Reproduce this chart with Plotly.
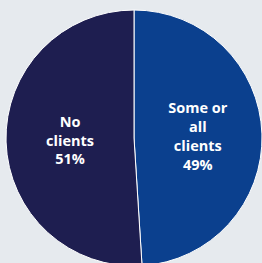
import plotly.graph_objects as go

labels = ["Some or all clients", "No clients"]
display_labels = ["Some or<br>all<br>clients", "No<br>clients"]
values = [49, 51]
colors = ["#0b408e", "#1e1e50"]

fig = go.Figure(go.Pie(
    labels=labels,
    values=values,
    customdata=display_labels,
    texttemplate="%{customdata}<br>%{value}%",
    textposition="inside",
    insidetextorientation="horizontal",
    sort=False,
    direction="clockwise",
    rotation=0,
    marker=dict(colors=colors, line=dict(color="#ffffff", width=1)),
    textfont=dict(family="Open Sans", size=14.5, color="#ffffff", weight="bold"),
    showlegend=False,
    hoverinfo="skip",
))

fig.update_layout(
    width=262, height=270,
    margin=dict(l=6, r=0, t=10, b=4),
    paper_bgcolor="#e6eaee",
    plot_bgcolor="#e6eaee",
)

fig.write_html(
    "out.html",
    config={"displayModeBar": False},
    post_script="document.body.style.margin='0';document.body.style.overflow='hidden';document.documentElement.style.overflow='hidden';",
)
